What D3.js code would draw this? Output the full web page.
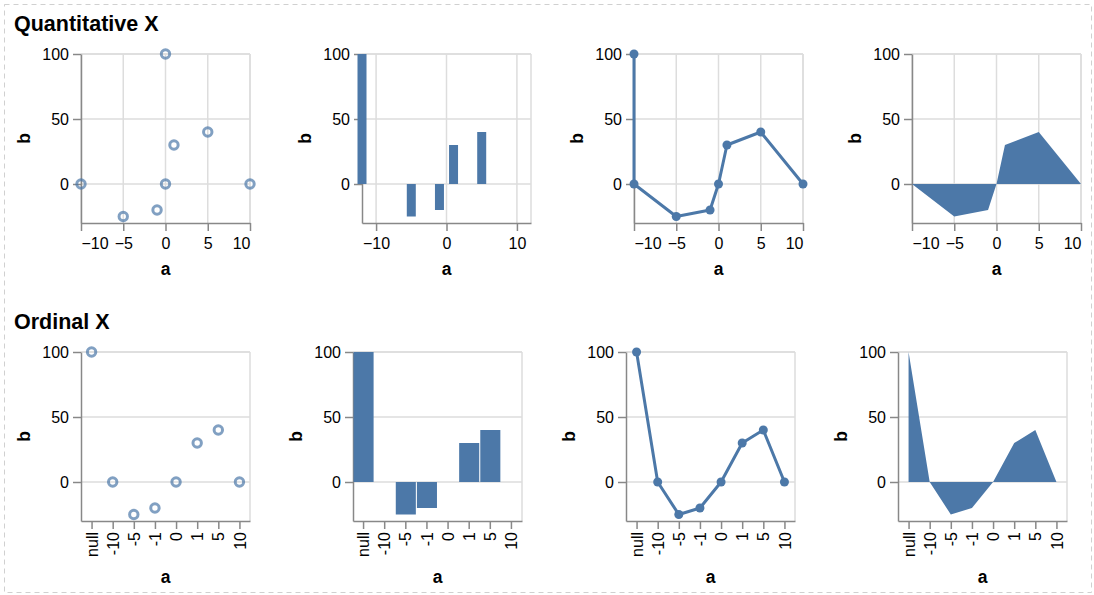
<!DOCTYPE html>
<html>
<head>
<meta charset="utf-8">
<script src="https://cdn.jsdelivr.net/npm/d3@7"></script>
<style>
body{margin:0;background:#fff;}
text{font-family:"Liberation Sans",Arial,Helvetica,sans-serif;fill:#000;}
</style>
</head>
<body>
<svg id="chart" width="1094" height="595"></svg>
<script>
// data
var aValues=[null,-10,-5,-1,0,1,5,10],
	bValues=[100,0,-25,-20,0,30,40,0],
	aLabels=["null","-10","-5","-1","0","1","5","10"],
	yDomain=[-30,100],
	yTicks=[0,50,100],
	xDomainQ=[-10,10],
	xDomainBarQ=[-12,12],
	xTicksQ=[-10,-5,0,5,10],
	xTicksBarQ=[-10,0,10],
	rowTitles=["Quantitative X","Ordinal X"],
	markTypes=["point","bar","line","area"];

var W=169,H=169,
	BLUE="#4c78a8",
	rowTop=[54,352],
	rowLeft=[[81,362,634,912],[81,353,626,898]],
	titleY=[31,329];

var rows=aValues.map(function(a,i){return {a:a,label:aLabels[i],b:bValues[i]};});

var svg=d3.select("#chart");

svg.append("rect")
	.attr("x",4.5).attr("y",4.5)
	.attr("width",1087).attr("height",588)
	.attr("fill","none")
	.attr("stroke","#d0d0d0")
	.attr("stroke-dasharray","5,4");

rowTitles.forEach(function(t,r){
	svg.append("text")
		.attr("x",14).attr("y",titleY[r])
		.attr("font-size",21.5)
		.attr("font-weight","bold")
		.text(t);
});

function drawPanel(r,c){
	var quant=(r==0),
		type=markTypes[c],
		g=svg.append("g").attr("transform","translate("+rowLeft[r][c]+","+rowTop[r]+")");

	var y=d3.scaleLinear().domain(yDomain).range([H,0]);
	var x;
	if(quant){
		x=d3.scaleLinear().domain(type=="bar"?xDomainBarQ:xDomainQ).range([0,W]);
	}else if(type=="bar"){
		x=d3.scaleBand().domain(aLabels).range([0,W]).paddingInner(0.05).paddingOuter(0.025);
	}else{
		x=d3.scalePoint().domain(aLabels).range([0,W]).padding(0.5);
	}
	var xTicks=(type=="bar")?xTicksBarQ:xTicksQ;

	var xPos=function(d){
		if(quant){
			if(d.a===null){return type=="point"?x(0):x.range()[0];}
			return x(d.a);
		}
		return type=="bar"?x(d.label)+x.bandwidth()/2:x(d.label);
	};

	// grid
	var grid=g.append("g").attr("stroke","#dddddd").attr("stroke-width",1.5);
	grid.selectAll(".hg").data(yTicks).join("line")
		.attr("x1",0).attr("x2",W)
		.attr("y1",function(d){return y(d);}).attr("y2",function(d){return y(d);});
	if(quant){
		grid.selectAll(".vg").data(xTicks).join("line")
			.attr("y1",0).attr("y2",H)
			.attr("x1",function(d){return x(d);}).attr("x2",function(d){return x(d);});
	}
	grid.append("line").attr("x1",0).attr("x2",W).attr("y1",0).attr("y2",0);
	grid.append("line").attr("x1",W).attr("x2",W).attr("y1",0).attr("y2",H);

	// axes
	var xAxis=d3.axisBottom(x).tickSize(8).tickSizeOuter(0);
	if(quant){xAxis.tickValues(xTicks).tickPadding(6.5);}
	var xa=g.append("g").attr("transform","translate(0,"+H+")").call(xAxis);
	var ya=g.append("g").call(d3.axisLeft(y).tickValues(yTicks).tickSize(8).tickSizeOuter(0).tickPadding(4));

	[xa,ya].forEach(function(ax){
		ax.attr("font-size",null).attr("font-family",null);
		ax.select(".domain").attr("stroke","#888").attr("stroke-width",1.5);
		ax.selectAll(".tick line").attr("stroke","#888").attr("stroke-width",1.5);
		ax.selectAll(".tick text").attr("font-size",16).attr("fill","#000");
	});

	if(quant){
		xa.selectAll(".tick text").attr("text-anchor",function(d){
			if(Math.abs(x(d))<1){return "start";}
			if(Math.abs(x(d)-W)<1){return "end";}
			return "middle";
		});
	}else{
		xa.selectAll(".tick text")
			.attr("y",null).attr("dy","0.35em")
			.attr("text-anchor","end")
			.attr("transform","translate(0,11) rotate(-90)");
	}

	g.append("text")
		.attr("x",W/2).attr("y",H+(quant?52:62))
		.attr("text-anchor","middle")
		.attr("font-size",17.5).attr("font-weight","bold")
		.text("a");
	g.append("text")
		.attr("transform","translate(-51,"+(H/2)+") rotate(-90)")
		.attr("text-anchor","middle")
		.attr("font-size",17.5).attr("font-weight","bold")
		.text("b");

	// marks
	if(type=="point"){
		g.selectAll(".pt").data(rows).join("circle")
			.attr("cx",xPos).attr("cy",function(d){return y(d.b);})
			.attr("r",4.2)
			.attr("fill","none")
			.attr("stroke",BLUE).attr("stroke-opacity",0.7).attr("stroke-width",3);
	}else if(type=="bar"){
		g.selectAll(".bar").data(rows).join("rect")
			.attr("x",function(d){return quant?xPos(d)-4.5:x(d.label);})
			.attr("width",quant?9:x.bandwidth())
			.attr("y",function(d){return Math.min(y(d.b),y(0));})
			.attr("height",function(d){return Math.abs(y(d.b)-y(0));})
			.attr("fill",BLUE);
	}else if(type=="line"){
		var line=d3.line().x(xPos).y(function(d){return y(d.b);});
		g.append("path").datum(rows)
			.attr("d",line)
			.attr("fill","none").attr("stroke",BLUE).attr("stroke-width",3)
			.attr("stroke-linejoin","round");
		g.selectAll(".dot").data(rows).join("circle")
			.attr("cx",xPos).attr("cy",function(d){return y(d.b);})
			.attr("r",4.5).attr("fill",BLUE);
	}else{
		var pts=quant?rows.filter(function(d){return d.a!==null;}):rows;
		var area=d3.area().x(xPos).y0(y(0)).y1(function(d){return y(d.b);});
		g.append("path").datum(pts).attr("d",area).attr("fill",BLUE);
	}
}

for(var r=0;r<2;r++){
	for(var c=0;c<4;c++){
		drawPanel(r,c);
	}
}
</script>
</body>
</html>
